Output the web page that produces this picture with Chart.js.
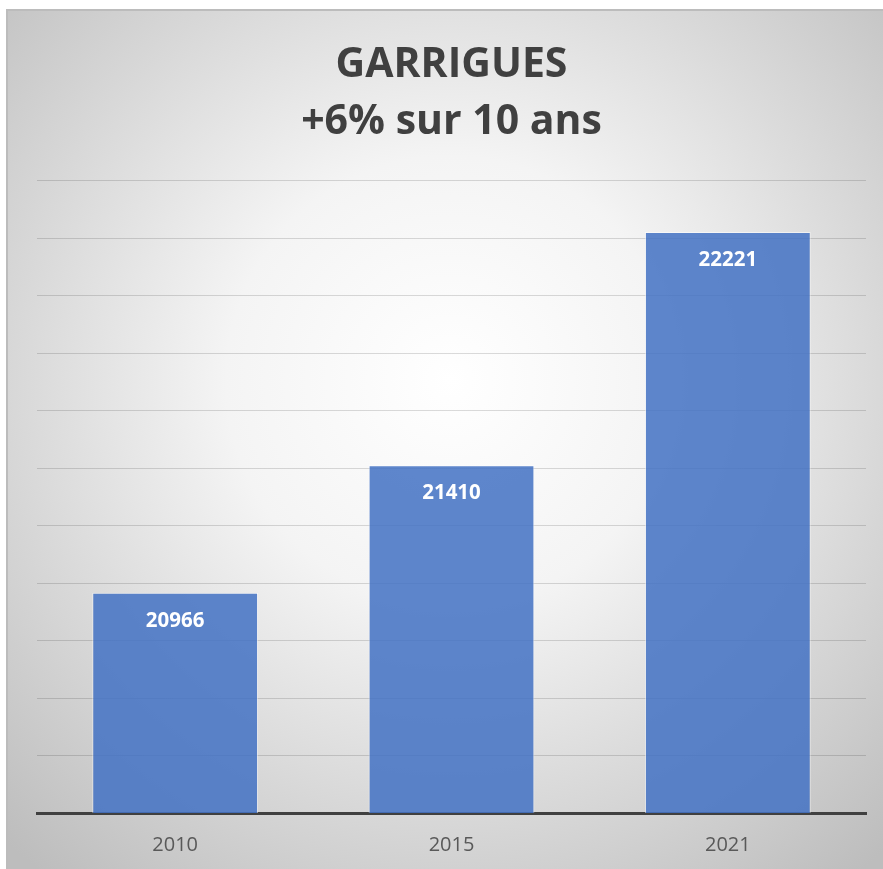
<!DOCTYPE html>
<html>
<head>
<meta charset="utf-8">
<script src="https://cdn.jsdelivr.net/npm/chart.js@4"></script>
<style>
  html, body { margin: 0; padding: 0; background: #fff; }
  #wrap { width: 883px; height: 869px; }
</style>
</head>
<body>
<div id="wrap"><canvas id="popChart" width="883" height="869"></canvas></div>
<script>
// data
var years = ['2010', '2015', '2021'];
var population = [20966, 21410, 22221];
var titleLines = ['GARRIGUES', '+6% sur 10 ans'];

// grey panel with a light radial glow in the middle
var panelBg = {
    id: 'panelBg',
    beforeDraw: function(chart) {
        var ctx = chart.ctx;
        ctx.save();
        ctx.fillStyle = '#ffffff';
        ctx.fillRect(0, 0, chart.width, chart.height);
        var g = ctx.createRadialGradient(450, 380, 0, 450, 380, 640);
        g.addColorStop(0, '#ffffff');
        g.addColorStop(0.35, '#f4f4f4');
        g.addColorStop(1, '#bdbdbd');
        ctx.fillStyle = g;
        ctx.fillRect(6, 9, chart.width - 6, chart.height - 9);
        ctx.strokeStyle = '#bcbcbc';
        ctx.lineWidth = 2;
        ctx.beginPath();
        ctx.moveTo(7, chart.height);
        ctx.lineTo(7, 10);
        ctx.lineTo(chart.width, 10);
        ctx.stroke();
        ctx.restore();
    }
};

// white value labels inside the top of each bar
var barValues = {
    id: 'barValues',
    afterDatasetsDraw: function(chart) {
        var ctx = chart.ctx;
        var meta = chart.getDatasetMeta(0);
        ctx.save();
        ctx.fillStyle = '#ffffff';
        ctx.font = 'bold 20.5px "Open Sans", sans-serif';
        ctx.textAlign = 'center';
        ctx.textBaseline = 'middle';
        meta.data.forEach(function(bar, i) {
            ctx.fillText(String(population[i]), bar.x, bar.y + 28);
        });
        ctx.restore();
    }
};

var ctx = document.getElementById('popChart').getContext('2d');
var popChart = new Chart(ctx, {
    type: 'bar',
    data: {
        labels: years,
        datasets: [{
            data: population,
            backgroundColor: 'rgba(68, 114, 196, 0.86)',
            borderColor: 'rgba(255, 255, 255, 0.55)',
            borderWidth: 1,
            categoryPercentage: 1,
            barPercentage: 0.6
        }]
    },
    options: {
        responsive: false,
        animation: false,
        layout: {
            padding: { left: 37, right: 17, top: 0, bottom: 0 }
        },
        plugins: {
            legend: { display: false },
            tooltip: { enabled: false },
            title: {
                display: true,
                text: titleLines,
                color: '#404040',
                font: { family: '"Open Sans", sans-serif', size: 41, weight: 'bold', lineHeight: 1.41 },
                padding: { top: 36, bottom: 29 }
            }
        },
        scales: {
            x: {
                grid: { display: false },
                border: { color: '#404040', width: 3 },
                ticks: {
                    color: '#595959',
                    font: { family: '"Open Sans", sans-serif', size: 20 },
                    padding: 12
                }
            },
            y: {
                min: 20200,
                max: 22400,
                ticks: { display: false, stepSize: 200 },
                border: { display: false },
                grid: { color: 'rgba(0, 0, 0, 0.14)', lineWidth: 1, drawTicks: false }
            }
        }
    },
    plugins: [panelBg, barValues]
});
</script>
</body>
</html>
